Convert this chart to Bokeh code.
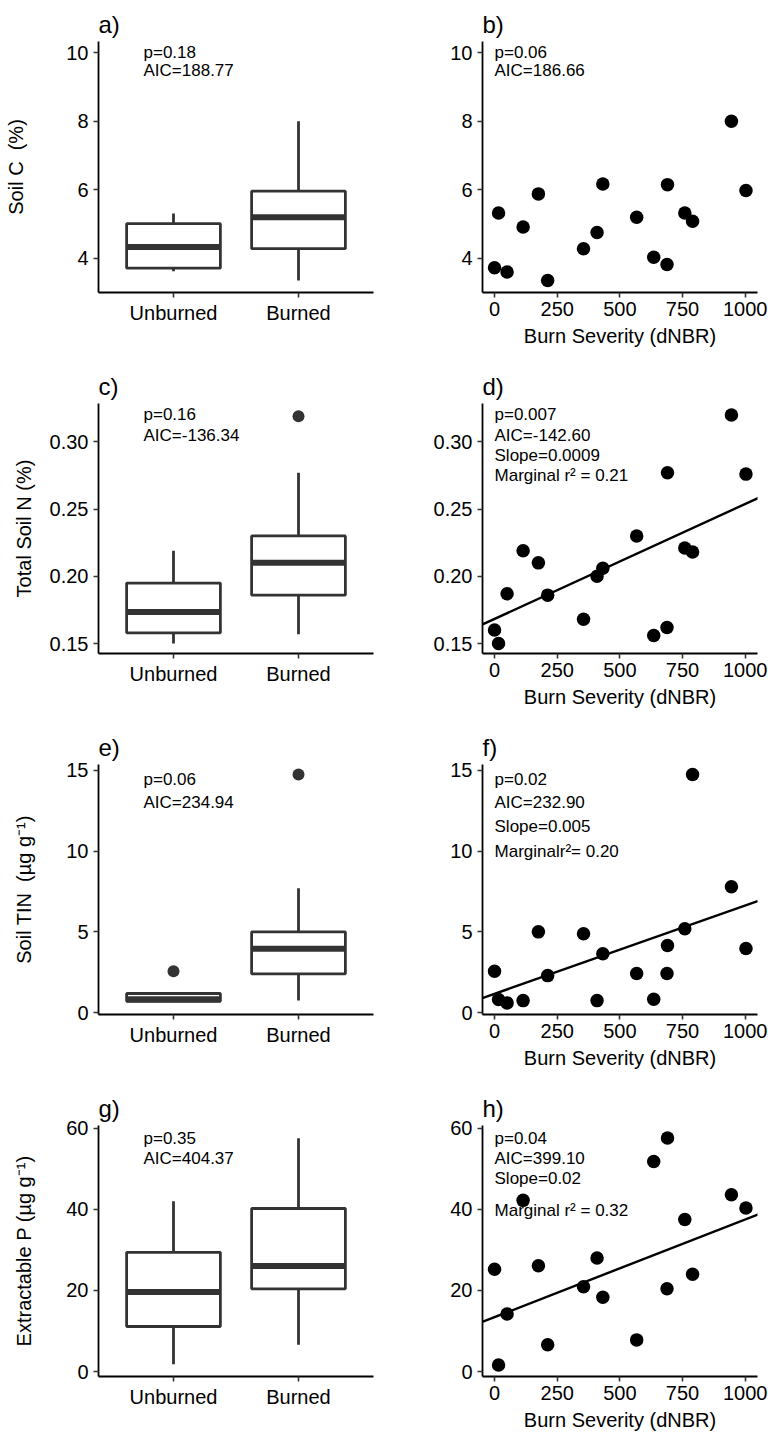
from bokeh.plotting import figure
from bokeh.models import FactorRange, Range1d, FixedTicker, Slope, NumeralTickFormatter
from bokeh.layouts import column, row
from bokeh.embed import file_html
from bokeh.resources import INLINE
from bokeh.core.properties import value

FONT = "Liberation Sans"

# ---------------- data ----------------
groups = ["Unburned", "Burned"]
dnbr = [0, 16, 50, 114, 175, 212, 355, 409, 432, 567, 635, 688, 690, 759, 790, 945, 1003]

soil_c = [3.72, 5.32, 3.60, 4.91, 5.88, 3.35, 4.28, 4.75, 6.17, 5.20, 4.03, 3.82, 6.15, 5.32, 5.08, 8.00, 5.98]
soil_n = [0.160, 0.150, 0.187, 0.219, 0.210, 0.186, 0.168, 0.200, 0.206, 0.230, 0.156, 0.162, 0.277, 0.221, 0.218, 0.320, 0.276]
soil_tin = [2.56, 0.81, 0.60, 0.74, 5.00, 2.29, 4.88, 0.74, 3.64, 2.42, 0.83, 2.42, 4.15, 5.19, 14.75, 7.79, 3.97]
ext_p = [25.2, 1.6, 14.2, 42.2, 26.1, 6.6, 20.9, 28.0, 18.3, 7.8, 51.8, 20.4, 57.6, 37.5, 24.0, 43.6, 40.3]

# boxplot summaries (Unburned, Burned)
c_lo, c_q1, c_med, c_q3, c_hi = [3.62, 3.35], [3.71, 4.28], [4.33, 5.20], [5.01, 5.96], [5.31, 8.00]
n_lo, n_q1, n_med, n_q3, n_hi = [0.150, 0.157], [0.158, 0.186], [0.1735, 0.210], [0.195, 0.230], [0.219, 0.277]
t_lo, t_q1, t_med, t_q3, t_hi = [0.66, 0.74], [0.70, 2.40], [0.82, 3.95], [1.18, 5.00], [1.18, 7.70]
p_lo, p_q1, p_med, p_q3, p_hi = [1.8, 6.6], [11.1, 20.4], [19.6, 26.0], [29.4, 40.2], [42.0, 57.5]

n_out_grp, n_out_val = ["Burned"], [0.319]
t_out_grp, t_out_val = ["Unburned", "Burned"], [2.56, 14.75]

# regression fits (intercept, slope per dNBR unit)
n_fit = (0.1683, 0.0000855)
t_fit = (1.16, 0.00547)
p_fit = (13.4, 0.0241)

# annotation texts
a_txt = ["p=0.18", "AIC=188.77"]
b_txt = ["p=0.06", "AIC=186.66"]
c_txt = ["p=0.16", "AIC=-136.34"]
d_txt = ["p=0.007", "AIC=-142.60", "Slope=0.0009", "Marginal r\u00b2 = 0.21"]
e_txt = ["p=0.06", "AIC=234.94"]
f_txt = ["p=0.02", "AIC=232.90", "Slope=0.005", "Marginalr\u00b2= 0.20"]
g_txt = ["p=0.35", "AIC=404.37"]
h_txt = ["p=0.04", "AIC=399.10", "Slope=0.02", "Marginal r\u00b2 = 0.32"]

y_ticks_c = [4, 6, 8, 10]
y_ticks_n = [0.15, 0.20, 0.25, 0.30]
y_ticks_t = [0, 5, 10, 15]
y_ticks_p = [0, 20, 40, 60]
x_ticks = [0, 250, 500, 750, 1000]

BOX = "#333333"


def base_fig(height, bottom, title, x_range, y_range, yticks, yfmt, ylab=None, ylab_standoff=10, xlab=None):
    p = figure(width=384, height=height, x_range=x_range, y_range=y_range,
               output_backend="svg", toolbar_location=None,
               min_border_left=98, min_border_right=11, min_border_top=41,
               min_border_bottom=bottom, title=title)
    p.title.text_font = FONT
    p.title.text_font_size = "24px"
    p.title.text_font_style = "normal"
    p.title.text_color = "black"
    p.title.align = "left"
    p.title.standoff = 8
    p.outline_line_color = None
    p.grid.visible = False
    p.background_fill_color = "white"
    p.border_fill_color = "white"
    for ax in (p.xaxis[0], p.yaxis[0]):
        ax.axis_line_color = "black"
        ax.axis_line_width = 1.8
        ax.major_tick_line_color = "#333333"
        ax.major_tick_line_width = 1.6
        ax.major_tick_out = 5
        ax.major_tick_in = 0
        ax.minor_tick_line_color = None
        ax.major_label_text_font = FONT
        ax.major_label_text_font_size = "20px"
        ax.major_label_text_color = "black"
        ax.axis_label_text_font = FONT
        ax.axis_label_text_font_size = "20px"
        ax.axis_label_text_font_style = "normal"
        ax.axis_label_text_color = "black"
    p.yaxis[0].ticker = FixedTicker(ticks=yticks)
    p.yaxis[0].formatter = NumeralTickFormatter(format=yfmt)
    p.yaxis[0].major_label_standoff = 5
    p.xaxis[0].major_label_standoff = 4
    if ylab:
        p.yaxis[0].axis_label = ylab
        p.yaxis[0].axis_label_standoff = ylab_standoff
    if xlab:
        p.xaxis[0].axis_label = xlab
        p.xaxis[0].axis_label_standoff = 6
    return p


def box_panel(height, bottom, title, yr, yticks, yfmt, ylab, ylab_standoff,
              lo, q1, med, q3, hi, txt, txt_y, out_grp=None, out_val=None):
    xr = FactorRange(factors=groups, range_padding=0.1)
    p = base_fig(height, bottom, title, xr, yr, yticks, yfmt, ylab, ylab_standoff)
    p.segment(x0=groups, x1=groups, y0=q3, y1=hi, line_color=BOX, line_width=2.8)
    p.segment(x0=groups, x1=groups, y0=lo, y1=q1, line_color=BOX, line_width=2.8)
    p.vbar(x=groups, width=0.75, bottom=q1, top=q3, fill_color="white",
           line_color=BOX, line_width=2.8)
    p.rect(x=groups, y=med, width=0.75, height=6, height_units="screen",
           fill_color=BOX, line_color=None)
    if out_grp:
        p.scatter(x=out_grp, y=out_val, size=12, fill_color=BOX, line_color=None)
    p.text(x=["Unburned"] * len(txt), y=txt_y, text=txt, x_offset=-30,
           text_font=value(FONT), text_font_size="17px", text_baseline="middle",
           text_align="left", text_color="black")
    return p


def scatter_panel(height, bottom, title, yr, yticks, yfmt, yvals, txt, txt_y, fit=None):
    p = base_fig(height, bottom, title, Range1d(-48, 1049), yr, yticks, yfmt,
                 xlab="Burn Severity (dNBR)")
    p.xaxis[0].ticker = FixedTicker(ticks=x_ticks)
    p.xaxis[0].formatter = NumeralTickFormatter(format="0")
    if fit:
        p.add_layout(Slope(gradient=fit[1], y_intercept=fit[0], line_color="black", line_width=2.4))
    p.scatter(x=dnbr, y=yvals, size=13.5, fill_color="black", line_color=None)
    p.text(x=[0] * len(txt), y=txt_y, text=txt,
           text_font=value(FONT), text_font_size="17px", text_baseline="middle",
           text_align="left", text_color="black")
    return p


yr1 = (3.0, 10.33)
yr2 = (0.1426, 0.3285)
yr3 = (-0.12, 15.37)
yr4 = (-1.23, 60.66)

NB = "\u00a0"

pa = box_panel(362, 70, "a)", Range1d(*yr1), y_ticks_c, "0", "Soil C" + NB + NB + "(%)", 36,
               c_lo, c_q1, c_med, c_q3, c_hi, a_txt, [10.0, 9.48])
pb = scatter_panel(362, 70, "b)", Range1d(*yr1), y_ticks_c, "0", soil_c, b_txt, [10.0, 9.48])

pc = box_panel(361, 70, "c)", Range1d(*yr2), y_ticks_n, "0.00", "Total Soil N (%)", 12,
               n_lo, n_q1, n_med, n_q3, n_hi, c_txt, [0.32, 0.305], n_out_grp, n_out_val)
pd = scatter_panel(361, 70, "d)", Range1d(*yr2), y_ticks_n, "0.00", soil_n, d_txt,
                   [0.32, 0.305, 0.29, 0.275], n_fit)

pe = box_panel(361, 70, "e)", Range1d(*yr3), y_ticks_t, "0",
               "Soil TIN" + NB + NB + "(\u00b5g g\u207b\u00b9)", 28,
               t_lo, t_q1, t_med, t_q3, t_hi, e_txt, [14.45, 13.0], t_out_grp, t_out_val)
pf = scatter_panel(361, 70, "f)", Range1d(*yr3), y_ticks_t, "0", soil_tin, f_txt,
                   [14.45, 13.0, 11.5, 10.0], t_fit)

pg = box_panel(349, 56, "g)", Range1d(*yr4), y_ticks_p, "0", "Extractable P (\u00b5g g\u207b\u00b9)", 28,
               p_lo, p_q1, p_med, p_q3, p_hi, g_txt, [57.4, 52.5])
ph = scatter_panel(349, 56, "h)", Range1d(*yr4), y_ticks_p, "0", ext_p, h_txt,
                   [57.4, 52.5, 47.6, 39.8], p_fit)

layout = column(row(pa, pb), row(pc, pd), row(pe, pf), row(pg, ph))

with open("out.html", "w") as f:
    f.write(file_html(layout, INLINE))
